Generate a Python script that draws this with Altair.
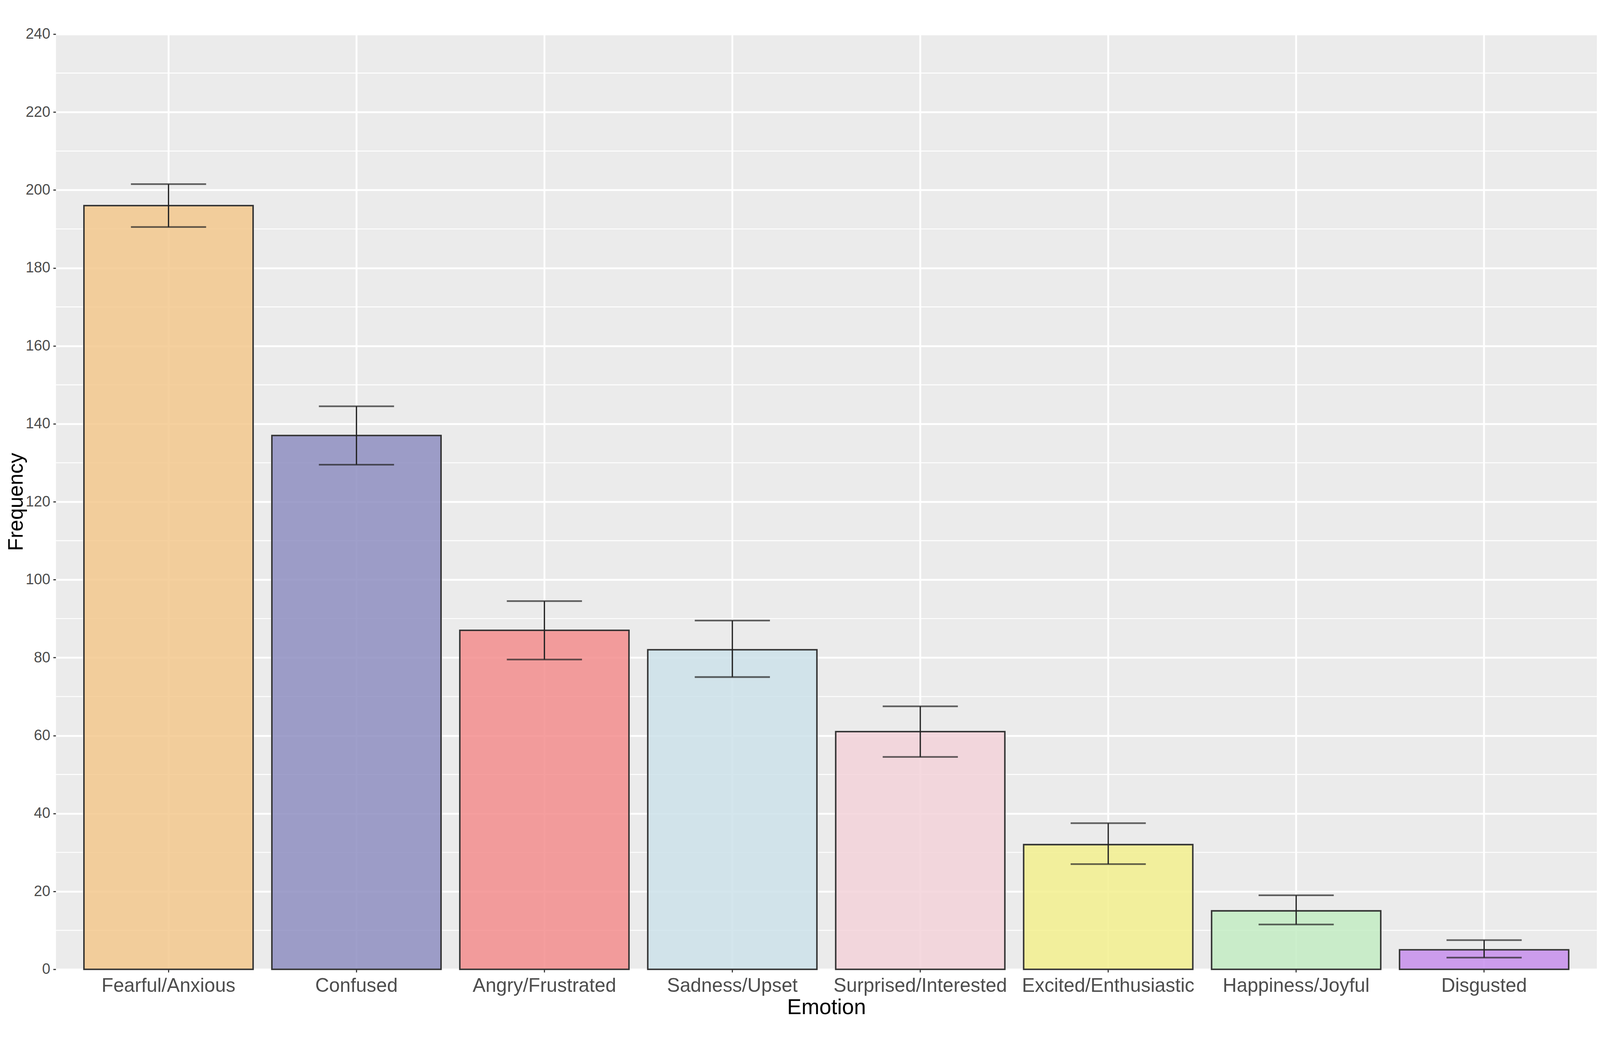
import altair as alt
import pandas as pd

# ---- data ----
emotions = ["Fearful/Anxious", "Confused", "Angry/Frustrated", "Sadness/Upset",
            "Surprised/Interested", "Excited/Enthusiastic", "Happiness/Joyful", "Disgusted"]
frequency = [196, 137, 87, 82, 61, 32, 15, 5]
ci_low = [190.5, 129.5, 79.5, 75, 54.5, 27, 11.5, 3]
ci_high = [201.5, 144.5, 94.5, 89.5, 67.5, 37.5, 19, 7.5]
# colours as they appear on the grey panel
seen_colors = ["#F2CD9B", "#9C9CC7", "#F29B9B", "#D1E3EA",
               "#F2D6DC", "#F2EF9C", "#C9ECC9", "#CC9CEC"]
y_ticks = list(range(0, 241, 20))
y_minor = list(range(10, 240, 20))

PANEL = (235, 235, 235)
ALPHA = 0.85


def unblend(hex_color):
    c = [int(hex_color[i:i + 2], 16) for i in (1, 3, 5)]
    f = [max(0, min(255, round((ci - (1 - ALPHA) * b) / ALPHA))) for ci, b in zip(c, PANEL)]
    return "#%02X%02X%02X" % tuple(f)


fills = [unblend(c) for c in seen_colors]

df = pd.DataFrame({"emotion": emotions, "freq": frequency, "lo": ci_low, "hi": ci_high})
minor_df = pd.DataFrame({"v": y_minor})

W, H = 4158, 2522
step = W / (len(emotions) - 0.1 + 2 * 0.15)
FONT = "Liberation Sans"

x_enc = alt.X(
    "emotion:N", sort=emotions,
    scale=alt.Scale(domain=emotions, paddingInner=0.1, paddingOuter=0.15),
    axis=alt.Axis(title="Emotion", labelAngle=0, labelFontSize=52, labelColor="#4D4D4D",
                  labelFont=FONT, titleFont=FONT, titleFontSize=58, titleColor="#000000",
                  titleFontWeight="normal", titlePadding=4, labelPadding=11, labelLimit=2000,
                  tickSize=8, tickWidth=3, tickColor="#333333", domain=False,
                  grid=True, gridColor="#FFFFFF", gridWidth=5, bandPosition=0.5),
)
y_scale = alt.Scale(domain=[0, 240], nice=False, zero=True)
y_axis = alt.Axis(title="Frequency", values=y_ticks, labelFontSize=40, labelColor="#4D4D4D",
                  labelFont=FONT, titleFont=FONT, titleFontSize=56, titleColor="#000000",
                  titleFontWeight="normal", titlePadding=8, titleBaseline="alphabetic",
                  labelPadding=8, tickSize=7, tickWidth=3, tickColor="#333333", domain=False,
                  grid=True, gridColor="#FFFFFF", gridWidth=5)

minor = alt.Chart(minor_df).mark_rule(color="#FFFFFF", strokeWidth=2.5).encode(
    y=alt.Y("v:Q", scale=y_scale, axis=y_axis)
)

bars = alt.Chart(df).mark_bar(stroke="#333333", strokeWidth=4, fillOpacity=ALPHA).encode(
    x=x_enc,
    y=alt.Y("freq:Q", scale=y_scale, axis=y_axis),
    fill=alt.Fill("emotion:N", scale=alt.Scale(domain=emotions, range=fills), legend=None),
)

err = alt.Chart(df).mark_rule(color="#222222", strokeWidth=3.5).encode(
    x=alt.X("emotion:N", sort=emotions),
    y="lo:Q", y2="hi:Q",
)
cap_lo = alt.Chart(df).mark_tick(color="#222222", thickness=4.5, size=0.4 * step).encode(
    x=alt.X("emotion:N", sort=emotions), y="lo:Q"
)
cap_hi = alt.Chart(df).mark_tick(color="#222222", thickness=4.5, size=0.4 * step).encode(
    x=alt.X("emotion:N", sort=emotions), y="hi:Q"
)

chart = alt.layer(minor, bars, err, cap_lo, cap_hi).properties(
    width=W, height=H,
    autosize=alt.AutoSizeParams(type="none"),
    padding={"left": 142, "top": 12, "right": 0, "bottom": 122},
    background="#FFFFFF",
).configure_view(fill="#EBEBEB", stroke="transparent")

chart.save("out.html", embed_options={"renderer": "svg", "actions": False})
